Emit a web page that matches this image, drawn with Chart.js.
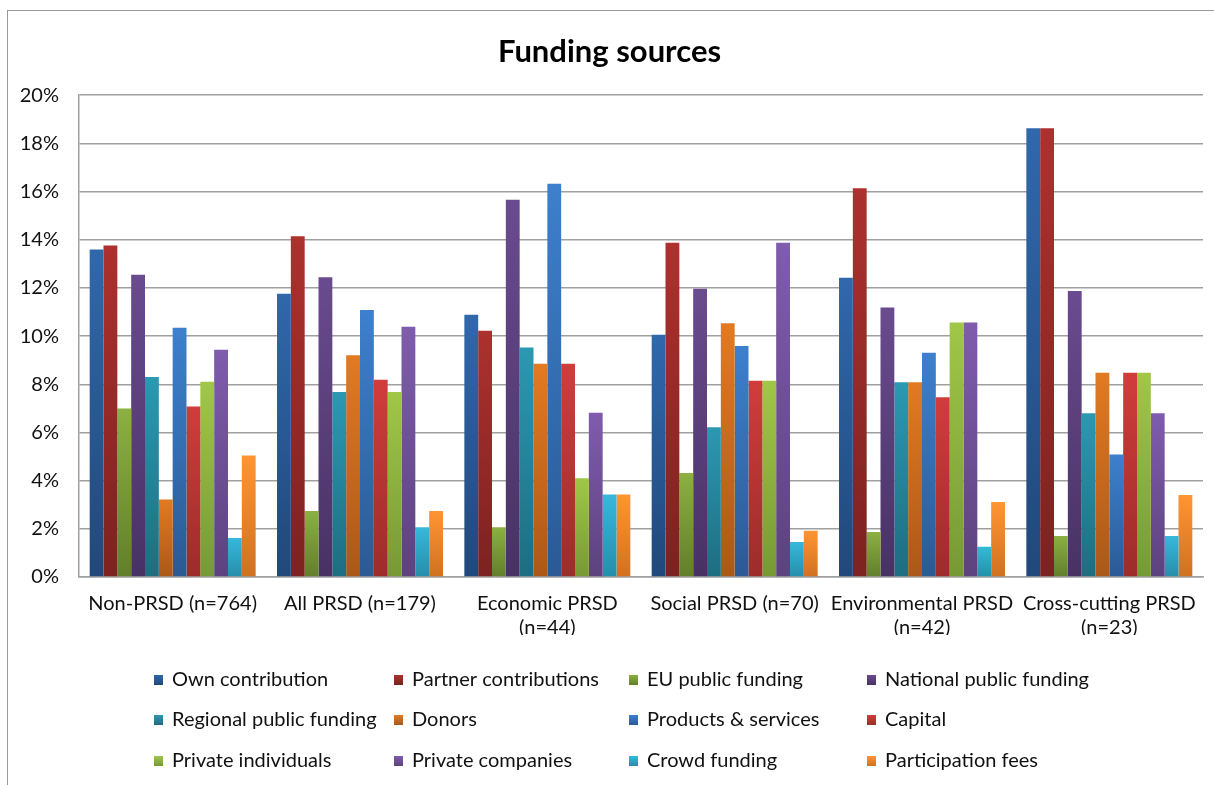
<!DOCTYPE html>
<html>
<head>
<meta charset="utf-8">
<script src="https://cdn.jsdelivr.net/npm/chart.js@4/dist/chart.umd.min.js"></script>
<style>
  html, body { margin: 0; padding: 0; background: #fff; }
  #wrap { position: relative; width: 1214px; height: 785px; }
  #frame { position: absolute; left: 7px; top: 10px; right: -2px; bottom: -2px;
           border-left: 1px solid #9a9a9a; border-top: 1px solid #9a9a9a; pointer-events: none; }
</style>
</head>
<body>
<div id="wrap">
  <canvas id="chart" width="1214" height="785"></canvas>
  <div id="frame"></div>
</div>
<script>
// categories on the x axis
const categories = [
  'Non-PRSD (n=764)',
  'All PRSD (n=179)',
  ['Economic PRSD', '(n=44)'],
  'Social PRSD (n=70)',
  ['Environmental PRSD', '(n=42)'],
  ['Cross-cutting PRSD', '(n=23)']
];

// one value per category (percent)
const ownContribution      = [13.60, 11.76, 10.89, 10.06, 12.42, 18.63];
const partnerContributions = [13.76, 14.14, 10.22, 13.87, 16.14, 18.63];
const euPublicFunding      = [6.99, 2.74, 2.06, 4.32, 1.87, 1.70];
const nationalPublic       = [12.55, 12.44, 15.66, 11.97, 11.19, 11.87];
const regionalPublic       = [8.30, 7.68, 9.53, 6.22, 8.08, 6.80];
const donors               = [3.22, 9.21, 8.85, 10.53, 8.08, 8.48];
const productsServices     = [10.35, 11.08, 16.32, 9.59, 9.31, 5.09];
const capital              = [7.08, 8.19, 8.85, 8.15, 7.46, 8.48];
const privateIndividuals   = [8.11, 7.68, 4.10, 8.15, 10.56, 8.48];
const privateCompanies     = [9.43, 10.39, 6.82, 13.87, 10.56, 6.80];
const crowdFunding         = [1.62, 2.06, 3.42, 1.45, 1.26, 1.70];
const participationFees    = [5.04, 2.74, 3.42, 1.92, 3.11, 3.40];

const yTicks = [0, 2, 4, 6, 8, 10, 12, 14, 16, 18, 20];

// name, values, top colour, bottom colour
const series = [
  ['Own contribution', ownContribution, '#3068ac', '#21487a'],
  ['Partner contributions', partnerContributions, '#ad312e', '#7c2220'],
  ['EU public funding', euPublicFunding, '#8cb042', '#627e2b'],
  ['National public funding', nationalPublic, '#6a4b8f', '#483264'],
  ['Regional public funding', regionalPublic, '#2c98b2', '#1e6d80'],
  ['Donors', donors, '#e27a22', '#ab5818'],
  ['Products & services', productsServices, '#3d80cd', '#2b5a94'],
  ['Capital', capital, '#d03d3b', '#9c2c2a'],
  ['Private individuals', privateIndividuals, '#a0c747', '#779935'],
  ['Private companies', privateCompanies, '#7f5cad', '#5c427e'],
  ['Crowd funding', crowdFunding, '#37b8db', '#258eaa'],
  ['Participation fees', participationFees, '#ff9533', '#d07121']
];

const FONT = 'Lato, "Open Sans", sans-serif';

function barGradient(top, bottom) {
  return (ctx) => {
    const chart = ctx.chart;
    if (ctx.type !== 'data' || !chart.chartArea) return top;
    const yScale = chart.scales.y;
    const y1 = yScale.getPixelForValue(ctx.parsed.y);
    const y0 = yScale.getPixelForValue(0);
    if (!isFinite(y1) || y0 - y1 < 1) return top;
    const g = chart.ctx.createLinearGradient(0, y1, 0, y0);
    g.addColorStop(0, top);
    g.addColorStop(1, bottom);
    return g;
  };
}

// legend drawn as a fixed 4-column grid, like the original
const gridLegend = {
  id: 'gridLegend',
  afterDraw(chart) {
    const c = chart.ctx;
    const colX = [154, 394, 629, 867];
    const rowY = [680, 720, 761];
    c.save();
    c.font = '20px ' + FONT;
    c.textBaseline = 'middle';
    c.textAlign = 'left';
    chart.data.datasets.forEach((ds, i) => {
      const x = colX[i % 4];
      const y = rowY[Math.floor(i / 4)];
      const g = c.createLinearGradient(0, y - 5, 0, y + 5);
      g.addColorStop(0, series[i][2]);
      g.addColorStop(1, series[i][3]);
      c.fillStyle = g;
      c.fillRect(x, y - 5, 9, 10);
      c.fillStyle = '#111';
      c.fillText(ds.label, x + 18, y);
    });
    c.restore();
  }
};

new Chart(document.getElementById('chart').getContext('2d'), {
  type: 'bar',
  data: {
    labels: categories,
    datasets: series.map(s => ({
      label: s[0],
      data: s[1],
      backgroundColor: barGradient(s[2], s[3]),
      borderWidth: 0
    }))
  },
  options: {
    responsive: false,
    animation: false,
    events: [],
    layout: { padding: { left: 16, right: 11, top: 0, bottom: 150 } },
    datasets: {
      bar: { categoryPercentage: 0.886, barPercentage: 1.0 }
    },
    plugins: {
      legend: { display: false },
      tooltip: { enabled: false },
      title: {
        display: true,
        text: 'Funding sources',
        color: '#000',
        font: { family: FONT, size: 31, weight: 'bold' },
        padding: { top: 33, bottom: 25 }
      }
    },
    scales: {
      x: {
        grid: { display: false, drawTicks: false },
        border: { display: true, color: '#a0a0a0', width: 1.5 },
        ticks: {
          color: '#111',
          font: { family: FONT, size: 20 },
          padding: 15,
          maxRotation: 0,
          autoSkip: false
        },
        afterFit: (s) => { s.height = 58; }
      },
      y: {
        min: 0,
        max: 20,
        afterBuildTicks: (s) => { s.ticks = yTicks.map(v => ({ value: v })); },
        grid: { color: '#a0a0a0', lineWidth: 1.5, drawTicks: false },
        border: { display: true, color: '#a0a0a0', width: 1.5 },
        ticks: {
          color: '#111',
          font: { family: FONT, size: 20 },
          padding: 20,
          callback: (v) => v + '%'
        },
        afterFit: (s) => { s.width = 63; }
      }
    }
  },
  plugins: [gridLegend]
});
</script>
</body>
</html>
